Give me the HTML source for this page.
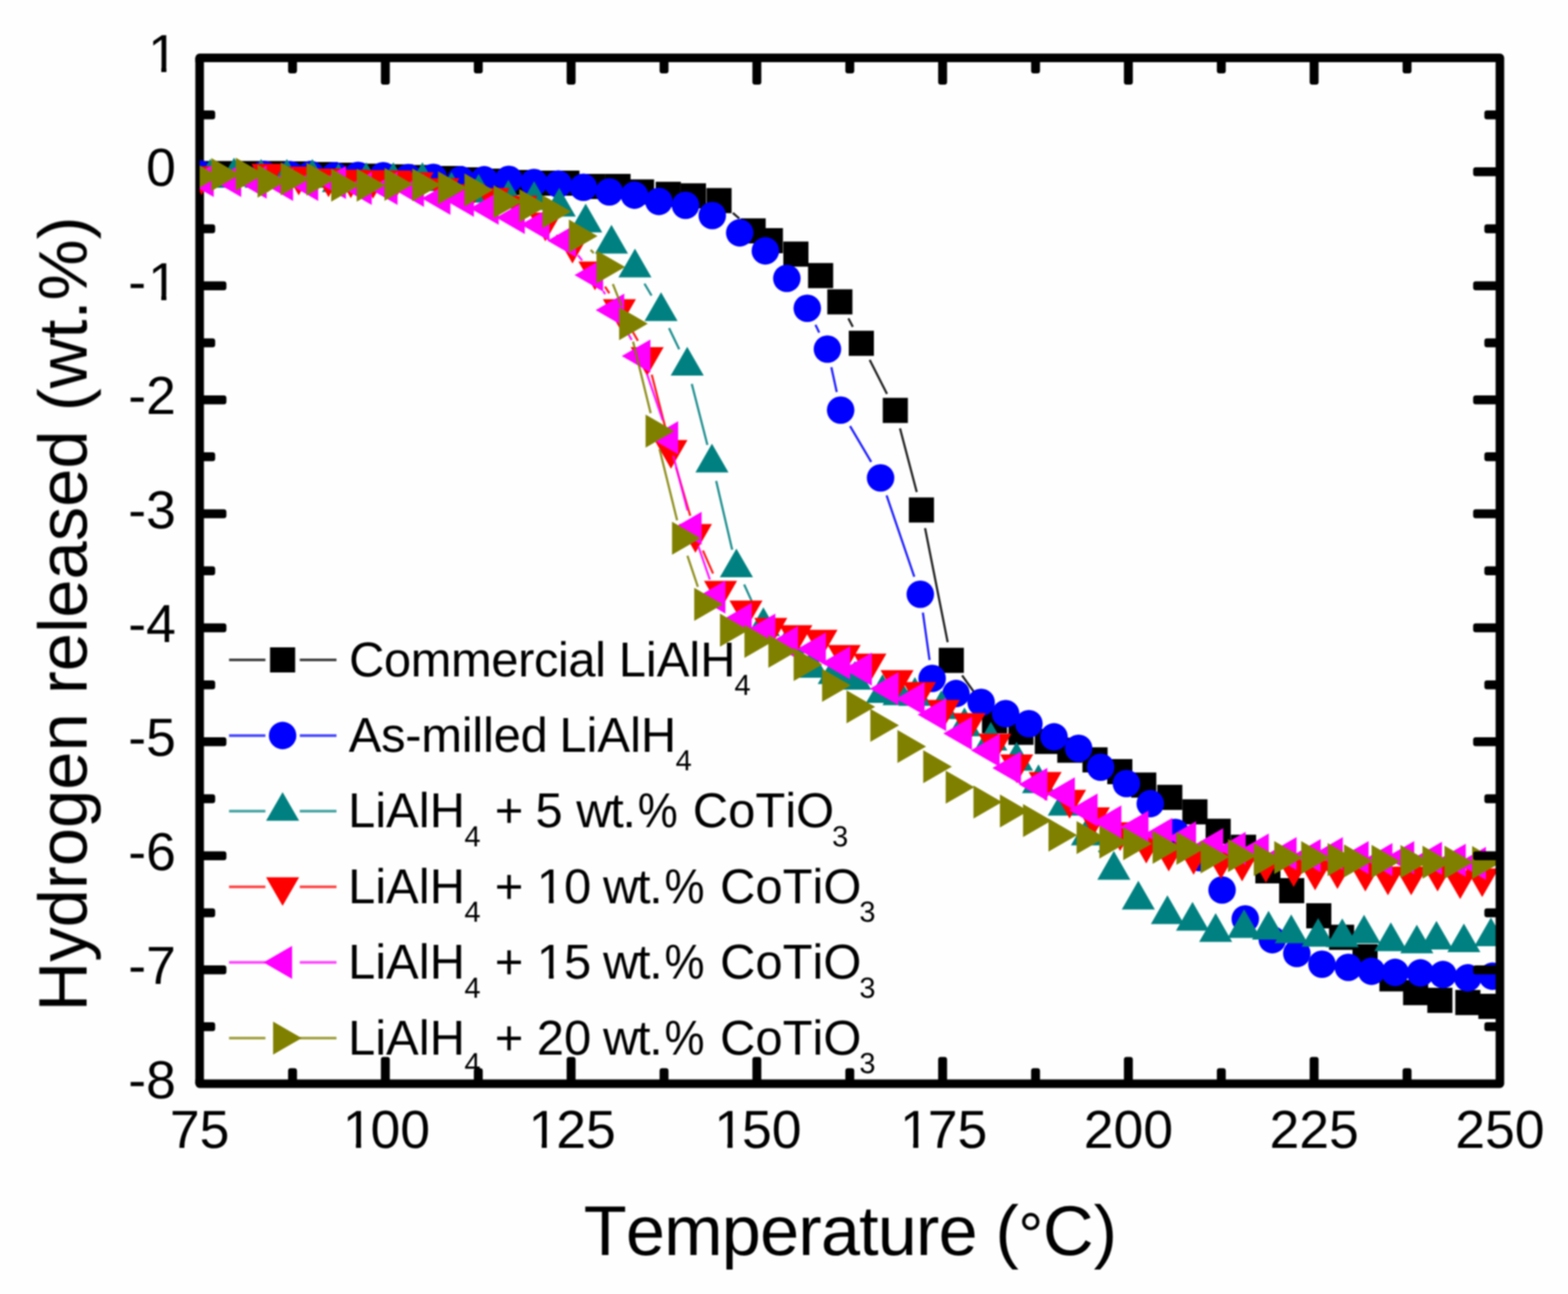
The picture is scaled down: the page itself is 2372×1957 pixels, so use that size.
<!DOCTYPE html>
<html lang="en"><head><meta charset="utf-8"><title>Hydrogen released vs Temperature</title>
<style>html,body{margin:0;padding:0;background:#fefefe;}body{width:2372px;height:1957px;overflow:hidden;}svg{display:block;}text{font-family:"Liberation Sans",Arial,Helvetica,sans-serif;fill:#000;font-kerning:none;text-rendering:geometricPrecision;}</style></head><body>
<svg width="2372" height="1957" viewBox="0 0 2372 1957">
<rect width="2372" height="1957" fill="#fefefe"/>
<defs><clipPath id="pc"><rect x="302.0" y="87.5" width="1967.0" height="1551.5"/></clipPath><filter id="soft" x="0" y="0" width="2372" height="1957" filterUnits="userSpaceOnUse" color-interpolation-filters="sRGB"><feGaussianBlur stdDeviation="0.95"/></filter></defs>
<g id="chart" filter="url(#soft)">
<g id="legend">
<path d="M346.5 998.0H401.5M453.5 998.0H509" stroke="#000000" stroke-width="4.0" stroke-opacity="0.75" fill="none"/>
<rect x="408.5" y="979.0" width="38.0" height="38.0" fill="#000000"/>
<text font-size="74"><tspan x="528.0" y="1022.5" style="letter-spacing:-0.67px">Commercial</tspan> <tspan x="935.9" y="1022.5">LiAlH</tspan><tspan x="1111.1" y="1051.0" font-size="44">4</tspan></text>
<path d="M346.5 1112.4H401.5M453.5 1112.4H509" stroke="#0000ff" stroke-width="4.0" stroke-opacity="0.75" fill="none"/>
<circle cx="427.5" cy="1112.4" r="20.8" fill="#0000ff"/>
<text font-size="74"><tspan x="527.4" y="1136.9" style="letter-spacing:-0.37px">As-milled</tspan> <tspan x="846.2" y="1136.9">LiAlH</tspan><tspan x="1022.1" y="1165.4" font-size="44">4</tspan></text>
<path d="M346.5 1226.8H401.5M453.5 1226.8H509" stroke="#008080" stroke-width="4.0" stroke-opacity="0.75" fill="none"/>
<polygon points="427.5,1197.9 402.5,1241.2 452.5,1241.2" fill="#008080"/>
<text font-size="74"><tspan x="526.5" y="1251.3">LiAlH</tspan><tspan x="702.5" y="1279.8" font-size="44">4</tspan> <tspan x="748.4" y="1251.3">+</tspan> <tspan x="810.1" y="1251.3">5</tspan> <tspan x="871.8" y="1251.3" style="letter-spacing:-2.20px">wt.</tspan></text><text transform="translate(964.8 1251.3) scale(0.92 1)" font-size="74">% </text><text font-size="74"><tspan x="1048.1" y="1251.3">CoTiO</tspan><tspan x="1258.8" y="1279.8" font-size="44">3</tspan></text>
<path d="M346.5 1341.2H401.5M453.5 1341.2H509" stroke="#ff0000" stroke-width="4.0" stroke-opacity="0.75" fill="none"/>
<polygon points="427.5,1370.1 402.5,1326.8 452.5,1326.8" fill="#ff0000"/>
<text font-size="74"><tspan x="526.5" y="1365.7">LiAlH</tspan><tspan x="702.5" y="1394.2" font-size="44">4</tspan> <tspan x="748.4" y="1365.7">+</tspan> <tspan x="812.1" y="1365.7">10</tspan> <tspan x="912.3" y="1365.7" style="letter-spacing:-2.20px">wt.</tspan></text><text transform="translate(1005.3 1365.7) scale(0.92 1)" font-size="74">% </text><text font-size="74"><tspan x="1089.3" y="1365.7">CoTiO</tspan><tspan x="1300.0" y="1394.2" font-size="44">3</tspan></text>
<path d="M814.32 1358.77H830.37v8.73H814.32zM837.49 1358.77H852.80v8.73H837.49z" fill="#fefefe"/>
<path d="M346.5 1455.6H401.5M453.5 1455.6H509" stroke="#ff00ff" stroke-width="4.0" stroke-opacity="0.75" fill="none"/>
<polygon points="398.6,1455.6 441.9,1430.6 441.9,1480.6" fill="#ff00ff"/>
<text font-size="74"><tspan x="526.5" y="1480.1">LiAlH</tspan><tspan x="702.5" y="1508.6" font-size="44">4</tspan> <tspan x="748.4" y="1480.1">+</tspan> <tspan x="812.1" y="1480.1">15</tspan> <tspan x="912.3" y="1480.1" style="letter-spacing:-2.20px">wt.</tspan></text><text transform="translate(1005.3 1480.1) scale(0.92 1)" font-size="74">% </text><text font-size="74"><tspan x="1089.3" y="1480.1">CoTiO</tspan><tspan x="1300.0" y="1508.6" font-size="44">3</tspan></text>
<path d="M814.32 1473.16H830.37v8.73H814.32zM837.49 1473.16H852.80v8.73H837.49z" fill="#fefefe"/>
<path d="M346.5 1570.0H401.5M453.5 1570.0H509" stroke="#808000" stroke-width="4.0" stroke-opacity="0.75" fill="none"/>
<polygon points="456.4,1570.0 413.1,1545.0 413.1,1595.0" fill="#808000"/>
<text font-size="74"><tspan x="526.5" y="1594.5">LiAlH</tspan><tspan x="702.5" y="1623.0" font-size="44">4</tspan> <tspan x="748.4" y="1594.5">+</tspan> <tspan x="812.1" y="1594.5">20</tspan> <tspan x="912.3" y="1594.5" style="letter-spacing:-2.20px">wt.</tspan></text><text transform="translate(1005.3 1594.5) scale(0.92 1)" font-size="74">% </text><text font-size="74"><tspan x="1089.3" y="1594.5">CoTiO</tspan><tspan x="1300.0" y="1623.0" font-size="44">3</tspan></text>
</g>
<g id="axis-left" stroke="#000" fill="none"><path d="M302.0 166.9h19.5a4 4 0 0 1 4 4v5.5a4 4 0 0 1 -4 4h-19.5a4 4 0 0 1 -4 -4v-5.5a4 4 0 0 1 4 -4zM302.0 253.1h36.5a4 4 0 0 1 4 4v5.5a4 4 0 0 1 -4 4h-36.5a4 4 0 0 1 -4 -4v-5.5a4 4 0 0 1 4 -4zM302.0 339.3h19.5a4 4 0 0 1 4 4v5.5a4 4 0 0 1 -4 4h-19.5a4 4 0 0 1 -4 -4v-5.5a4 4 0 0 1 4 -4zM302.0 425.5h36.5a4 4 0 0 1 4 4v5.5a4 4 0 0 1 -4 4h-36.5a4 4 0 0 1 -4 -4v-5.5a4 4 0 0 1 4 -4zM302.0 511.7h19.5a4 4 0 0 1 4 4v5.5a4 4 0 0 1 -4 4h-19.5a4 4 0 0 1 -4 -4v-5.5a4 4 0 0 1 4 -4zM302.0 597.9h36.5a4 4 0 0 1 4 4v5.5a4 4 0 0 1 -4 4h-36.5a4 4 0 0 1 -4 -4v-5.5a4 4 0 0 1 4 -4zM302.0 684.1h19.5a4 4 0 0 1 4 4v5.5a4 4 0 0 1 -4 4h-19.5a4 4 0 0 1 -4 -4v-5.5a4 4 0 0 1 4 -4zM302.0 770.3h36.5a4 4 0 0 1 4 4v5.5a4 4 0 0 1 -4 4h-36.5a4 4 0 0 1 -4 -4v-5.5a4 4 0 0 1 4 -4zM302.0 856.5h19.5a4 4 0 0 1 4 4v5.5a4 4 0 0 1 -4 4h-19.5a4 4 0 0 1 -4 -4v-5.5a4 4 0 0 1 4 -4zM302.0 942.7h36.5a4 4 0 0 1 4 4v5.5a4 4 0 0 1 -4 4h-36.5a4 4 0 0 1 -4 -4v-5.5a4 4 0 0 1 4 -4zM302.0 1028.9h19.5a4 4 0 0 1 4 4v5.5a4 4 0 0 1 -4 4h-19.5a4 4 0 0 1 -4 -4v-5.5a4 4 0 0 1 4 -4zM302.0 1115.1h36.5a4 4 0 0 1 4 4v5.5a4 4 0 0 1 -4 4h-36.5a4 4 0 0 1 -4 -4v-5.5a4 4 0 0 1 4 -4zM302.0 1201.3h19.5a4 4 0 0 1 4 4v5.5a4 4 0 0 1 -4 4h-19.5a4 4 0 0 1 -4 -4v-5.5a4 4 0 0 1 4 -4zM302.0 1287.5h36.5a4 4 0 0 1 4 4v5.5a4 4 0 0 1 -4 4h-36.5a4 4 0 0 1 -4 -4v-5.5a4 4 0 0 1 4 -4zM302.0 1373.7h19.5a4 4 0 0 1 4 4v5.5a4 4 0 0 1 -4 4h-19.5a4 4 0 0 1 -4 -4v-5.5a4 4 0 0 1 4 -4zM302.0 1459.9h36.5a4 4 0 0 1 4 4v5.5a4 4 0 0 1 -4 4h-36.5a4 4 0 0 1 -4 -4v-5.5a4 4 0 0 1 4 -4zM302.0 1546.1h19.5a4 4 0 0 1 4 4v5.5a4 4 0 0 1 -4 4h-19.5a4 4 0 0 1 -4 -4v-5.5a4 4 0 0 1 4 -4z" fill="#000" stroke="none"/><path d="M302.0 87.5V1639.0" stroke-width="13.0"/></g>
<g id="series" clip-path="url(#pc)">
<g>
<path d="M1108.6 322.0L1118.4 330.6M1283.4 481.4L1290.1 494.3M1315.6 544.2L1341.8 595.7M1361.5 647.8L1386.8 744.2M1399.4 798.8L1433.6 971.2M1455.4 1021.5L1488.2 1067.2" stroke="#000000" stroke-width="3.3" stroke-opacity="0.88" fill="none"/>
<rect x="283.0" y="243.5" width="38.0" height="38.0" fill="#000000"/>
<rect x="321.0" y="243.5" width="38.0" height="38.0" fill="#000000"/>
<rect x="359.0" y="243.5" width="38.0" height="38.0" fill="#000000"/>
<rect x="397.0" y="243.5" width="38.0" height="38.0" fill="#000000"/>
<rect x="435.0" y="244.0" width="38.0" height="38.0" fill="#000000"/>
<rect x="473.0" y="245.0" width="38.0" height="38.0" fill="#000000"/>
<rect x="511.0" y="246.0" width="38.0" height="38.0" fill="#000000"/>
<rect x="549.0" y="247.5" width="38.0" height="38.0" fill="#000000"/>
<rect x="587.0" y="248.5" width="38.0" height="38.0" fill="#000000"/>
<rect x="625.0" y="249.5" width="38.0" height="38.0" fill="#000000"/>
<rect x="663.0" y="251.0" width="38.0" height="38.0" fill="#000000"/>
<rect x="701.0" y="253.0" width="38.0" height="38.0" fill="#000000"/>
<rect x="739.0" y="255.0" width="38.0" height="38.0" fill="#000000"/>
<rect x="777.0" y="257.0" width="38.0" height="38.0" fill="#000000"/>
<rect x="815.0" y="258.0" width="38.0" height="38.0" fill="#000000"/>
<rect x="838.6" y="258.0" width="38.0" height="38.0" fill="#000000"/>
<rect x="877.9" y="263.0" width="38.0" height="38.0" fill="#000000"/>
<rect x="915.9" y="263.0" width="38.0" height="38.0" fill="#000000"/>
<rect x="951.5" y="271.3" width="38.0" height="38.0" fill="#000000"/>
<rect x="991.9" y="274.9" width="38.0" height="38.0" fill="#000000"/>
<rect x="1030.0" y="277.2" width="38.0" height="38.0" fill="#000000"/>
<rect x="1068.7" y="284.4" width="38.0" height="38.0" fill="#000000"/>
<rect x="1120.3" y="330.2" width="38.0" height="38.0" fill="#000000"/>
<rect x="1146.4" y="345.0" width="38.0" height="38.0" fill="#000000"/>
<rect x="1185.0" y="365.3" width="38.0" height="38.0" fill="#000000"/>
<rect x="1222.4" y="397.8" width="38.0" height="38.0" fill="#000000"/>
<rect x="1251.5" y="437.5" width="38.0" height="38.0" fill="#000000"/>
<rect x="1284.0" y="500.2" width="38.0" height="38.0" fill="#000000"/>
<rect x="1335.4" y="601.7" width="38.0" height="38.0" fill="#000000"/>
<rect x="1374.9" y="752.3" width="38.0" height="38.0" fill="#000000"/>
<rect x="1420.1" y="979.7" width="38.0" height="38.0" fill="#000000"/>
<rect x="1485.5" y="1071.0" width="38.0" height="38.0" fill="#000000"/>
<rect x="1525.5" y="1088.5" width="38.0" height="38.0" fill="#000000"/>
<rect x="1565.4" y="1102.3" width="38.0" height="38.0" fill="#000000"/>
<rect x="1599.4" y="1115.6" width="38.0" height="38.0" fill="#000000"/>
<rect x="1637.5" y="1130.2" width="38.0" height="38.0" fill="#000000"/>
<rect x="1675.0" y="1148.0" width="38.0" height="38.0" fill="#000000"/>
<rect x="1711.2" y="1168.3" width="38.0" height="38.0" fill="#000000"/>
<rect x="1750.6" y="1186.9" width="38.0" height="38.0" fill="#000000"/>
<rect x="1788.6" y="1208.8" width="38.0" height="38.0" fill="#000000"/>
<rect x="1823.8" y="1238.2" width="38.0" height="38.0" fill="#000000"/>
<rect x="1862.2" y="1262.4" width="38.0" height="38.0" fill="#000000"/>
<rect x="1899.0" y="1298.0" width="38.0" height="38.0" fill="#000000"/>
<rect x="1935.0" y="1328.0" width="38.0" height="38.0" fill="#000000"/>
<rect x="1976.0" y="1366.0" width="38.0" height="38.0" fill="#000000"/>
<rect x="2010.5" y="1398.5" width="38.0" height="38.0" fill="#000000"/>
<rect x="2046.0" y="1428.0" width="38.0" height="38.0" fill="#000000"/>
<rect x="2086.7" y="1461.4" width="38.0" height="38.0" fill="#000000"/>
<rect x="2122.5" y="1482.2" width="38.0" height="38.0" fill="#000000"/>
<rect x="2159.2" y="1493.9" width="38.0" height="38.0" fill="#000000"/>
<rect x="2201.5" y="1497.2" width="38.0" height="38.0" fill="#000000"/>
<rect x="2236.4" y="1503.0" width="38.0" height="38.0" fill="#000000"/>
</g>
<g>
<path d="M330.0 263.2L371.3 263.6M1233.6 491.3L1239.3 502.9M1257.6 555.4L1265.8 592.8M1285.9 644.3L1317.9 698.7M1341.2 749.3L1383.1 872.2M1396.1 926.4L1406.2 998.3" stroke="#0000ff" stroke-width="3.3" stroke-opacity="0.88" fill="none"/>
<circle cx="302.0" cy="263.0" r="20.8" fill="#0000ff"/>
<circle cx="399.3" cy="263.8" r="20.8" fill="#0000ff"/>
<circle cx="438.3" cy="264.0" r="20.8" fill="#0000ff"/>
<circle cx="470.0" cy="263.9" r="20.8" fill="#0000ff"/>
<circle cx="506.5" cy="265.8" r="20.8" fill="#0000ff"/>
<circle cx="541.7" cy="265.3" r="20.8" fill="#0000ff"/>
<circle cx="579.7" cy="265.8" r="20.8" fill="#0000ff"/>
<circle cx="617.8" cy="268.6" r="20.8" fill="#0000ff"/>
<circle cx="655.5" cy="268.3" r="20.8" fill="#0000ff"/>
<circle cx="697.0" cy="271.9" r="20.8" fill="#0000ff"/>
<circle cx="732.5" cy="271.9" r="20.8" fill="#0000ff"/>
<circle cx="769.7" cy="271.3" r="20.8" fill="#0000ff"/>
<circle cx="807.7" cy="276.0" r="20.8" fill="#0000ff"/>
<circle cx="844.6" cy="278.4" r="20.8" fill="#0000ff"/>
<circle cx="882.6" cy="283.2" r="20.8" fill="#0000ff"/>
<circle cx="921.8" cy="290.3" r="20.8" fill="#0000ff"/>
<circle cx="959.8" cy="295.1" r="20.8" fill="#0000ff"/>
<circle cx="996.7" cy="304.6" r="20.8" fill="#0000ff"/>
<circle cx="1037.1" cy="310.5" r="20.8" fill="#0000ff"/>
<circle cx="1077.5" cy="326.0" r="20.8" fill="#0000ff"/>
<circle cx="1119.0" cy="352.1" r="20.8" fill="#0000ff"/>
<circle cx="1157.8" cy="379.4" r="20.8" fill="#0000ff"/>
<circle cx="1190.3" cy="421.0" r="20.8" fill="#0000ff"/>
<circle cx="1221.2" cy="466.2" r="20.8" fill="#0000ff"/>
<circle cx="1251.7" cy="528.0" r="20.8" fill="#0000ff"/>
<circle cx="1271.7" cy="620.2" r="20.8" fill="#0000ff"/>
<circle cx="1332.1" cy="722.8" r="20.8" fill="#0000ff"/>
<circle cx="1392.2" cy="898.7" r="20.8" fill="#0000ff"/>
<circle cx="1410.1" cy="1026.0" r="20.8" fill="#0000ff"/>
<circle cx="1446.2" cy="1048.9" r="20.8" fill="#0000ff"/>
<circle cx="1484.2" cy="1062.2" r="20.8" fill="#0000ff"/>
<circle cx="1521.3" cy="1079.3" r="20.8" fill="#0000ff"/>
<circle cx="1556.5" cy="1094.5" r="20.8" fill="#0000ff"/>
<circle cx="1594.5" cy="1114.4" r="20.8" fill="#0000ff"/>
<circle cx="1631.7" cy="1131.7" r="20.8" fill="#0000ff"/>
<circle cx="1665.0" cy="1160.3" r="20.8" fill="#0000ff"/>
<circle cx="1704.0" cy="1185.0" r="20.8" fill="#0000ff"/>
<circle cx="1740.1" cy="1215.4" r="20.8" fill="#0000ff"/>
<circle cx="1778.0" cy="1259.0" r="20.8" fill="#0000ff"/>
<circle cx="1815.0" cy="1297.0" r="20.8" fill="#0000ff"/>
<circle cx="1848.7" cy="1346.0" r="20.8" fill="#0000ff"/>
<circle cx="1883.8" cy="1389.7" r="20.8" fill="#0000ff"/>
<circle cx="1924.7" cy="1421.1" r="20.8" fill="#0000ff"/>
<circle cx="1961.8" cy="1442.0" r="20.8" fill="#0000ff"/>
<circle cx="1999.8" cy="1458.2" r="20.8" fill="#0000ff"/>
<circle cx="2039.7" cy="1463.0" r="20.8" fill="#0000ff"/>
<circle cx="2074.8" cy="1468.9" r="20.8" fill="#0000ff"/>
<circle cx="2110.5" cy="1470.6" r="20.8" fill="#0000ff"/>
<circle cx="2148.8" cy="1471.4" r="20.8" fill="#0000ff"/>
<circle cx="2182.9" cy="1473.9" r="20.8" fill="#0000ff"/>
<circle cx="2220.3" cy="1478.9" r="20.8" fill="#0000ff"/>
<circle cx="2257.8" cy="1476.4" r="20.8" fill="#0000ff"/>
</g>
<g>
<path d="M974.9 429.0L985.6 447.0M1012.1 496.2L1027.5 528.3M1046.5 580.6L1070.1 672.9M1083.4 727.3L1107.6 831.3M1125.7 884.0L1143.1 922.1M1662.1 1286.2L1667.9 1293.8" stroke="#008080" stroke-width="3.3" stroke-opacity="0.88" fill="none"/>
<polygon points="318.0,240.6 293.0,283.9 343.0,283.9" fill="#008080"/>
<polygon points="354.0,238.6 329.0,281.9 379.0,281.9" fill="#008080"/>
<polygon points="395.0,240.6 370.0,283.9 420.0,283.9" fill="#008080"/>
<polygon points="434.0,240.6 409.0,283.9 459.0,283.9" fill="#008080"/>
<polygon points="472.5,240.6 447.5,283.9 497.5,283.9" fill="#008080"/>
<polygon points="512.0,247.1 487.0,290.4 537.0,290.4" fill="#008080"/>
<polygon points="554.0,245.6 529.0,288.9 579.0,288.9" fill="#008080"/>
<polygon points="595.0,245.6 570.0,288.9 620.0,288.9" fill="#008080"/>
<polygon points="639.0,245.6 614.0,288.9 664.0,288.9" fill="#008080"/>
<polygon points="683.0,260.1 658.0,303.4 708.0,303.4" fill="#008080"/>
<polygon points="724.0,263.1 699.0,306.4 749.0,306.4" fill="#008080"/>
<polygon points="769.0,272.1 744.0,315.4 794.0,315.4" fill="#008080"/>
<polygon points="808.0,274.1 783.0,317.4 833.0,317.4" fill="#008080"/>
<polygon points="846.0,284.1 821.0,327.4 871.0,327.4" fill="#008080"/>
<polygon points="886.0,308.1 861.0,351.4 911.0,351.4" fill="#008080"/>
<polygon points="925.0,340.1 900.0,383.4 950.0,383.4" fill="#008080"/>
<polygon points="960.5,376.1 935.5,419.4 985.5,419.4" fill="#008080"/>
<polygon points="1000.0,442.1 975.0,485.4 1025.0,485.4" fill="#008080"/>
<polygon points="1039.6,524.6 1014.6,567.9 1064.6,567.9" fill="#008080"/>
<polygon points="1077.0,671.1 1052.0,714.4 1102.0,714.4" fill="#008080"/>
<polygon points="1114.0,829.7 1089.0,873.0 1139.0,873.0" fill="#008080"/>
<polygon points="1154.8,918.6 1129.8,961.9 1179.8,961.9" fill="#008080"/>
<polygon points="1192.0,946.1 1167.0,989.4 1217.0,989.4" fill="#008080"/>
<polygon points="1228.0,981.7 1203.0,1025.0 1253.0,1025.0" fill="#008080"/>
<polygon points="1262.0,991.1 1237.0,1034.4 1287.0,1034.4" fill="#008080"/>
<polygon points="1293.0,999.7 1268.0,1043.0 1318.0,1043.0" fill="#008080"/>
<polygon points="1335.0,1019.8 1310.0,1063.1 1360.0,1063.1" fill="#008080"/>
<polygon points="1360.0,1023.1 1335.0,1066.4 1385.0,1066.4" fill="#008080"/>
<polygon points="1384.0,1024.1 1359.0,1067.4 1409.0,1067.4" fill="#008080"/>
<polygon points="1424.0,1044.1 1399.0,1087.4 1449.0,1087.4" fill="#008080"/>
<polygon points="1459.0,1070.1 1434.0,1113.4 1484.0,1113.4" fill="#008080"/>
<polygon points="1498.9,1091.8 1473.9,1135.1 1523.9,1135.1" fill="#008080"/>
<polygon points="1537.8,1122.1 1512.8,1165.4 1562.8,1165.4" fill="#008080"/>
<polygon points="1571.0,1156.1 1546.0,1199.4 1596.0,1199.4" fill="#008080"/>
<polygon points="1610.0,1190.1 1585.0,1233.4 1635.0,1233.4" fill="#008080"/>
<polygon points="1645.0,1235.1 1620.0,1278.4 1670.0,1278.4" fill="#008080"/>
<polygon points="1685.0,1287.1 1660.0,1330.4 1710.0,1330.4" fill="#008080"/>
<polygon points="1722.0,1332.1 1697.0,1375.4 1747.0,1375.4" fill="#008080"/>
<polygon points="1766.0,1354.1 1741.0,1397.4 1791.0,1397.4" fill="#008080"/>
<polygon points="1804.0,1364.1 1779.0,1407.4 1829.0,1407.4" fill="#008080"/>
<polygon points="1839.0,1381.1 1814.0,1424.4 1864.0,1424.4" fill="#008080"/>
<polygon points="1882.0,1375.1 1857.0,1418.4 1907.0,1418.4" fill="#008080"/>
<polygon points="1919.0,1377.6 1894.0,1420.9 1944.0,1420.9" fill="#008080"/>
<polygon points="1953.3,1383.1 1928.3,1426.4 1978.3,1426.4" fill="#008080"/>
<polygon points="1994.0,1388.5 1969.0,1431.8 2019.0,1431.8" fill="#008080"/>
<polygon points="2030.5,1389.1 2005.5,1432.4 2055.5,1432.4" fill="#008080"/>
<polygon points="2063.5,1383.4 2038.5,1426.7 2088.5,1426.7" fill="#008080"/>
<polygon points="2104.0,1395.1 2079.0,1438.4 2129.0,1438.4" fill="#008080"/>
<polygon points="2143.3,1398.4 2118.3,1441.7 2168.3,1441.7" fill="#008080"/>
<polygon points="2173.0,1392.7 2148.0,1436.0 2198.0,1436.0" fill="#008080"/>
<polygon points="2214.5,1396.7 2189.5,1440.0 2239.5,1440.0" fill="#008080"/>
<polygon points="2255.4,1387.8 2230.4,1431.1 2280.4,1431.1" fill="#008080"/>
</g>
<g>
<path d="M333.0 264.9L377.3 263.3M915.2 433.5L921.8 443.5M951.0 491.2L965.0 515.3M985.9 566.6L1008.1 652.9M1022.8 706.9L1044.2 780.1M1063.3 832.6L1078.7 867.4" stroke="#ff0000" stroke-width="3.3" stroke-opacity="0.88" fill="none"/>
<polygon points="305.0,294.9 280.0,251.6 330.0,251.6" fill="#ff0000"/>
<polygon points="405.3,291.1 380.3,247.8 430.3,247.8" fill="#ff0000"/>
<polygon points="451.9,295.4 426.9,252.1 476.9,252.1" fill="#ff0000"/>
<polygon points="497.0,298.2 472.0,254.9 522.0,254.9" fill="#ff0000"/>
<polygon points="530.7,299.7 505.7,256.4 555.7,256.4" fill="#ff0000"/>
<polygon points="564.3,300.6 539.3,257.3 589.3,257.3" fill="#ff0000"/>
<polygon points="598.0,301.1 573.0,257.8 623.0,257.8" fill="#ff0000"/>
<polygon points="631.0,303.7 606.0,260.4 656.0,260.4" fill="#ff0000"/>
<polygon points="670.0,312.9 645.0,269.6 695.0,269.6" fill="#ff0000"/>
<polygon points="709.0,321.9 684.0,278.6 734.0,278.6" fill="#ff0000"/>
<polygon points="746.0,327.5 721.0,284.2 771.0,284.2" fill="#ff0000"/>
<polygon points="788.0,339.4 763.0,296.1 813.0,296.1" fill="#ff0000"/>
<polygon points="825.0,364.9 800.0,321.6 850.0,321.6" fill="#ff0000"/>
<polygon points="866.0,398.4 841.0,355.1 891.0,355.1" fill="#ff0000"/>
<polygon points="900.0,438.9 875.0,395.6 925.0,395.6" fill="#ff0000"/>
<polygon points="937.0,495.9 912.0,452.6 962.0,452.6" fill="#ff0000"/>
<polygon points="979.0,568.4 954.0,525.1 1004.0,525.1" fill="#ff0000"/>
<polygon points="1015.0,708.9 990.0,665.6 1040.0,665.6" fill="#ff0000"/>
<polygon points="1052.0,835.9 1027.0,792.6 1077.0,792.6" fill="#ff0000"/>
<polygon points="1090.0,921.9 1065.0,878.6 1115.0,878.6" fill="#ff0000"/>
<polygon points="1128.5,951.5 1103.5,908.2 1153.5,908.2" fill="#ff0000"/>
<polygon points="1166.0,977.9 1141.0,934.6 1191.0,934.6" fill="#ff0000"/>
<polygon points="1204.0,988.9 1179.0,945.6 1229.0,945.6" fill="#ff0000"/>
<polygon points="1242.0,995.9 1217.0,952.6 1267.0,952.6" fill="#ff0000"/>
<polygon points="1277.0,1018.9 1252.0,975.6 1302.0,975.6" fill="#ff0000"/>
<polygon points="1316.0,1031.9 1291.0,988.6 1341.0,988.6" fill="#ff0000"/>
<polygon points="1357.0,1056.9 1332.0,1013.6 1382.0,1013.6" fill="#ff0000"/>
<polygon points="1391.0,1074.9 1366.0,1031.6 1416.0,1031.6" fill="#ff0000"/>
<polygon points="1427.0,1101.9 1402.0,1058.6 1452.0,1058.6" fill="#ff0000"/>
<polygon points="1466.0,1121.9 1441.0,1078.6 1491.0,1078.6" fill="#ff0000"/>
<polygon points="1505.0,1152.9 1480.0,1109.6 1530.0,1109.6" fill="#ff0000"/>
<polygon points="1538.0,1184.4 1513.0,1141.1 1563.0,1141.1" fill="#ff0000"/>
<polygon points="1581.0,1210.9 1556.0,1167.6 1606.0,1167.6" fill="#ff0000"/>
<polygon points="1618.0,1237.9 1593.0,1194.6 1643.0,1194.6" fill="#ff0000"/>
<polygon points="1654.0,1264.4 1629.0,1221.1 1679.0,1221.1" fill="#ff0000"/>
<polygon points="1694.5,1286.9 1669.5,1243.6 1719.5,1243.6" fill="#ff0000"/>
<polygon points="1734.0,1305.9 1709.0,1262.6 1759.0,1262.6" fill="#ff0000"/>
<polygon points="1768.0,1317.9 1743.0,1274.6 1793.0,1274.6" fill="#ff0000"/>
<polygon points="1805.6,1322.9 1780.6,1279.6 1830.6,1279.6" fill="#ff0000"/>
<polygon points="1847.0,1329.5 1822.0,1286.2 1872.0,1286.2" fill="#ff0000"/>
<polygon points="1879.0,1332.9 1854.0,1289.6 1904.0,1289.6" fill="#ff0000"/>
<polygon points="1915.0,1334.9 1890.0,1291.6 1940.0,1291.6" fill="#ff0000"/>
<polygon points="1957.0,1341.6 1932.0,1298.3 1982.0,1298.3" fill="#ff0000"/>
<polygon points="1989.4,1346.4 1964.4,1303.1 2014.4,1303.1" fill="#ff0000"/>
<polygon points="2023.2,1344.5 1998.2,1301.2 2048.2,1301.2" fill="#ff0000"/>
<polygon points="2065.4,1348.3 2040.4,1305.0 2090.4,1305.0" fill="#ff0000"/>
<polygon points="2099.6,1354.0 2074.6,1310.7 2124.6,1310.7" fill="#ff0000"/>
<polygon points="2134.8,1354.0 2109.8,1310.7 2159.8,1310.7" fill="#ff0000"/>
<polygon points="2174.7,1348.3 2149.7,1305.0 2199.7,1305.0" fill="#ff0000"/>
<polygon points="2208.9,1359.7 2183.9,1316.4 2233.9,1316.4" fill="#ff0000"/>
<polygon points="2242.2,1356.8 2217.2,1313.5 2267.2,1313.5" fill="#ff0000"/>
</g>
<g>
<path d="M874.3 386.0L880.7 394.0M912.5 440.0L915.5 445.0M943.9 493.3L955.6 514.1M978.5 564.9L1002.5 635.5M1018.5 689.1L1040.0 771.9M1056.2 825.5L1073.8 876.5" stroke="#ff00ff" stroke-width="3.3" stroke-opacity="0.88" fill="none"/>
<polygon points="280.1,273.0 323.4,248.0 323.4,298.0" fill="#ff00ff"/>
<polygon points="321.6,273.0 364.9,248.0 364.9,298.0" fill="#ff00ff"/>
<polygon points="360.1,275.5 403.4,250.5 403.4,300.5" fill="#ff00ff"/>
<polygon points="400.1,279.0 443.4,254.0 443.4,304.0" fill="#ff00ff"/>
<polygon points="438.1,279.0 481.4,254.0 481.4,304.0" fill="#ff00ff"/>
<polygon points="480.1,276.0 523.4,251.0 523.4,301.0" fill="#ff00ff"/>
<polygon points="519.1,285.0 562.4,260.0 562.4,310.0" fill="#ff00ff"/>
<polygon points="558.1,285.0 601.4,260.0 601.4,310.0" fill="#ff00ff"/>
<polygon points="598.1,288.0 641.4,263.0 641.4,313.0" fill="#ff00ff"/>
<polygon points="638.1,300.0 681.4,275.0 681.4,325.0" fill="#ff00ff"/>
<polygon points="673.6,303.0 716.9,278.0 716.9,328.0" fill="#ff00ff"/>
<polygon points="711.1,315.0 754.4,290.0 754.4,340.0" fill="#ff00ff"/>
<polygon points="750.6,329.0 793.9,304.0 793.9,354.0" fill="#ff00ff"/>
<polygon points="788.0,339.5 831.3,314.5 831.3,364.5" fill="#ff00ff"/>
<polygon points="828.1,364.0 871.4,339.0 871.4,389.0" fill="#ff00ff"/>
<polygon points="869.1,416.0 912.4,391.0 912.4,441.0" fill="#ff00ff"/>
<polygon points="901.1,469.0 944.4,444.0 944.4,494.0" fill="#ff00ff"/>
<polygon points="940.6,538.4 983.9,513.4 983.9,563.4" fill="#ff00ff"/>
<polygon points="982.6,662.0 1025.9,637.0 1025.9,687.0" fill="#ff00ff"/>
<polygon points="1018.1,799.0 1061.4,774.0 1061.4,824.0" fill="#ff00ff"/>
<polygon points="1054.1,903.0 1097.4,878.0 1097.4,928.0" fill="#ff00ff"/>
<polygon points="1093.8,936.7 1137.1,911.7 1137.1,961.7" fill="#ff00ff"/>
<polygon points="1129.6,953.0 1172.9,928.0 1172.9,978.0" fill="#ff00ff"/>
<polygon points="1163.8,972.0 1207.1,947.0 1207.1,997.0" fill="#ff00ff"/>
<polygon points="1206.1,981.5 1249.4,956.5 1249.4,1006.5" fill="#ff00ff"/>
<polygon points="1242.8,1002.6 1286.1,977.6 1286.1,1027.6" fill="#ff00ff"/>
<polygon points="1275.6,1012.1 1318.9,987.1 1318.9,1037.1" fill="#ff00ff"/>
<polygon points="1316.0,1041.5 1359.3,1016.5 1359.3,1066.5" fill="#ff00ff"/>
<polygon points="1355.4,1056.7 1398.7,1031.7 1398.7,1081.7" fill="#ff00ff"/>
<polygon points="1388.1,1080.7 1431.4,1055.7 1431.4,1105.7" fill="#ff00ff"/>
<polygon points="1427.0,1109.2 1470.3,1084.2 1470.3,1134.2" fill="#ff00ff"/>
<polygon points="1468.9,1134.8 1512.2,1109.8 1512.2,1159.8" fill="#ff00ff"/>
<polygon points="1501.2,1161.5 1544.5,1136.5 1544.5,1186.5" fill="#ff00ff"/>
<polygon points="1541.1,1186.2 1584.4,1161.2 1584.4,1211.2" fill="#ff00ff"/>
<polygon points="1582.7,1200.5 1626.0,1175.5 1626.0,1225.5" fill="#ff00ff"/>
<polygon points="1617.1,1225.0 1660.4,1200.0 1660.4,1250.0" fill="#ff00ff"/>
<polygon points="1653.1,1243.0 1696.4,1218.0 1696.4,1268.0" fill="#ff00ff"/>
<polygon points="1694.1,1251.0 1737.4,1226.0 1737.4,1276.0" fill="#ff00ff"/>
<polygon points="1730.1,1262.0 1773.4,1237.0 1773.4,1287.0" fill="#ff00ff"/>
<polygon points="1766.1,1267.0 1809.4,1242.0 1809.4,1292.0" fill="#ff00ff"/>
<polygon points="1807.1,1277.5 1850.4,1252.5 1850.4,1302.5" fill="#ff00ff"/>
<polygon points="1841.1,1283.0 1884.4,1258.0 1884.4,1308.0" fill="#ff00ff"/>
<polygon points="1876.1,1285.5 1919.4,1260.5 1919.4,1310.5" fill="#ff00ff"/>
<polygon points="1918.1,1291.0 1961.4,1266.0 1961.4,1316.0" fill="#ff00ff"/>
<polygon points="1954.6,1294.0 1997.9,1269.0 1997.9,1319.0" fill="#ff00ff"/>
<polygon points="1988.1,1291.0 2031.4,1266.0 2031.4,1316.0" fill="#ff00ff"/>
<polygon points="2027.1,1297.0 2070.4,1272.0 2070.4,1322.0" fill="#ff00ff"/>
<polygon points="2063.1,1300.0 2106.4,1275.0 2106.4,1325.0" fill="#ff00ff"/>
<polygon points="2096.1,1297.0 2139.4,1272.0 2139.4,1322.0" fill="#ff00ff"/>
<polygon points="2138.1,1298.0 2181.4,1273.0 2181.4,1323.0" fill="#ff00ff"/>
<polygon points="2174.1,1301.0 2217.4,1276.0 2217.4,1326.0" fill="#ff00ff"/>
<polygon points="2204.6,1305.7 2247.9,1280.7 2247.9,1330.7" fill="#ff00ff"/>
</g>
<g>
<path d="M893.6 377.9L898.1 382.8M927.1 429.7L940.6 463.5M957.7 516.7L984.3 624.8M997.7 679.2L1024.3 786.8M1039.9 840.5L1055.7 887.5" stroke="#808000" stroke-width="3.3" stroke-opacity="0.88" fill="none"/>
<polygon points="330.9,267.0 287.6,242.0 287.6,292.0" fill="#808000"/>
<polygon points="362.9,264.0 319.6,239.0 319.6,289.0" fill="#808000"/>
<polygon points="399.9,263.5 356.6,238.5 356.6,288.5" fill="#808000"/>
<polygon points="432.9,274.0 389.6,249.0 389.6,299.0" fill="#808000"/>
<polygon points="467.9,270.6 424.6,245.6 424.6,295.6" fill="#808000"/>
<polygon points="506.9,271.0 463.6,246.0 463.6,296.0" fill="#808000"/>
<polygon points="544.3,280.0 501.0,255.0 501.0,305.0" fill="#808000"/>
<polygon points="582.9,280.0 539.6,255.0 539.6,305.0" fill="#808000"/>
<polygon points="624.9,278.7 581.6,253.7 581.6,303.7" fill="#808000"/>
<polygon points="666.9,279.4 623.6,254.4 623.6,304.4" fill="#808000"/>
<polygon points="705.9,284.0 662.6,259.0 662.6,309.0" fill="#808000"/>
<polygon points="745.9,287.3 702.6,262.3 702.6,312.3" fill="#808000"/>
<polygon points="789.9,305.0 746.6,280.0 746.6,330.0" fill="#808000"/>
<polygon points="828.9,311.0 785.6,286.0 785.6,336.0" fill="#808000"/>
<polygon points="863.9,320.0 820.6,295.0 820.6,345.0" fill="#808000"/>
<polygon points="903.9,357.0 860.6,332.0 860.6,382.0" fill="#808000"/>
<polygon points="945.6,403.7 902.3,378.7 902.3,428.7" fill="#808000"/>
<polygon points="979.9,489.5 936.6,464.5 936.6,514.5" fill="#808000"/>
<polygon points="1019.9,652.0 976.6,627.0 976.6,677.0" fill="#808000"/>
<polygon points="1059.9,814.0 1016.6,789.0 1016.6,839.0" fill="#808000"/>
<polygon points="1093.5,914.0 1050.2,889.0 1050.2,939.0" fill="#808000"/>
<polygon points="1132.5,953.0 1089.2,928.0 1089.2,978.0" fill="#808000"/>
<polygon points="1169.5,970.0 1126.2,945.0 1126.2,995.0" fill="#808000"/>
<polygon points="1205.7,985.0 1162.4,960.0 1162.4,1010.0" fill="#808000"/>
<polygon points="1243.9,1005.0 1200.6,980.0 1200.6,1030.0" fill="#808000"/>
<polygon points="1286.9,1036.5 1243.6,1011.5 1243.6,1061.5" fill="#808000"/>
<polygon points="1323.9,1069.0 1280.6,1044.0 1280.6,1094.0" fill="#808000"/>
<polygon points="1359.9,1097.0 1316.6,1072.0 1316.6,1122.0" fill="#808000"/>
<polygon points="1400.9,1129.0 1357.6,1104.0 1357.6,1154.0" fill="#808000"/>
<polygon points="1439.9,1159.5 1396.6,1134.5 1396.6,1184.5" fill="#808000"/>
<polygon points="1473.9,1190.5 1430.6,1165.5 1430.6,1215.5" fill="#808000"/>
<polygon points="1515.9,1213.0 1472.6,1188.0 1472.6,1238.0" fill="#808000"/>
<polygon points="1555.9,1226.6 1512.6,1201.6 1512.6,1251.6" fill="#808000"/>
<polygon points="1590.9,1241.0 1547.6,1216.0 1547.6,1266.0" fill="#808000"/>
<polygon points="1629.4,1263.0 1586.1,1238.0 1586.1,1288.0" fill="#808000"/>
<polygon points="1671.9,1266.7 1628.6,1241.7 1628.6,1291.7" fill="#808000"/>
<polygon points="1706.4,1273.4 1663.1,1248.4 1663.1,1298.4" fill="#808000"/>
<polygon points="1742.5,1276.0 1699.2,1251.0 1699.2,1301.0" fill="#808000"/>
<polygon points="1786.9,1281.4 1743.6,1256.4 1743.6,1306.4" fill="#808000"/>
<polygon points="1822.9,1283.0 1779.6,1258.0 1779.6,1308.0" fill="#808000"/>
<polygon points="1859.5,1296.0 1816.2,1271.0 1816.2,1321.0" fill="#808000"/>
<polygon points="1900.9,1294.0 1857.6,1269.0 1857.6,1319.0" fill="#808000"/>
<polygon points="1939.9,1300.0 1896.6,1275.0 1896.6,1325.0" fill="#808000"/>
<polygon points="1970.9,1297.0 1927.6,1272.0 1927.6,1322.0" fill="#808000"/>
<polygon points="2011.7,1297.0 1968.4,1272.0 1968.4,1322.0" fill="#808000"/>
<polygon points="2051.7,1300.0 2008.4,1275.0 2008.4,1325.0" fill="#808000"/>
<polygon points="2076.4,1302.0 2033.1,1277.0 2033.1,1327.0" fill="#808000"/>
<polygon points="2118.2,1302.7 2074.9,1277.7 2074.9,1327.7" fill="#808000"/>
<polygon points="2161.9,1303.0 2118.6,1278.0 2118.6,1328.0" fill="#808000"/>
<polygon points="2195.2,1304.0 2151.9,1279.0 2151.9,1329.0" fill="#808000"/>
<polygon points="2228.5,1304.0 2185.2,1279.0 2185.2,1329.0" fill="#808000"/>
<polygon points="2270.3,1304.6 2227.0,1279.6 2227.0,1329.6" fill="#808000"/>
</g>
</g>
<g id="axes" stroke="#000" fill="none"><path d="M439.8 83.5h5.5a4 4 0 0 1 4 4v19.5a4 4 0 0 1 -4 4h-5.5a4 4 0 0 1 -4 -4v-19.5a4 4 0 0 1 4 -4zM580.2 83.5h5.5a4 4 0 0 1 4 4v36.5a4 4 0 0 1 -4 4h-5.5a4 4 0 0 1 -4 -4v-36.5a4 4 0 0 1 4 -4zM720.8 83.5h5.5a4 4 0 0 1 4 4v19.5a4 4 0 0 1 -4 4h-5.5a4 4 0 0 1 -4 -4v-19.5a4 4 0 0 1 4 -4zM861.2 83.5h5.5a4 4 0 0 1 4 4v36.5a4 4 0 0 1 -4 4h-5.5a4 4 0 0 1 -4 -4v-36.5a4 4 0 0 1 4 -4zM1001.8 83.5h5.5a4 4 0 0 1 4 4v19.5a4 4 0 0 1 -4 4h-5.5a4 4 0 0 1 -4 -4v-19.5a4 4 0 0 1 4 -4zM1142.2 83.5h5.5a4 4 0 0 1 4 4v36.5a4 4 0 0 1 -4 4h-5.5a4 4 0 0 1 -4 -4v-36.5a4 4 0 0 1 4 -4zM1282.8 83.5h5.5a4 4 0 0 1 4 4v19.5a4 4 0 0 1 -4 4h-5.5a4 4 0 0 1 -4 -4v-19.5a4 4 0 0 1 4 -4zM1423.2 83.5h5.5a4 4 0 0 1 4 4v36.5a4 4 0 0 1 -4 4h-5.5a4 4 0 0 1 -4 -4v-36.5a4 4 0 0 1 4 -4zM1563.8 83.5h5.5a4 4 0 0 1 4 4v19.5a4 4 0 0 1 -4 4h-5.5a4 4 0 0 1 -4 -4v-19.5a4 4 0 0 1 4 -4zM1704.2 83.5h5.5a4 4 0 0 1 4 4v36.5a4 4 0 0 1 -4 4h-5.5a4 4 0 0 1 -4 -4v-36.5a4 4 0 0 1 4 -4zM1844.8 83.5h5.5a4 4 0 0 1 4 4v19.5a4 4 0 0 1 -4 4h-5.5a4 4 0 0 1 -4 -4v-19.5a4 4 0 0 1 4 -4zM1985.2 83.5h5.5a4 4 0 0 1 4 4v36.5a4 4 0 0 1 -4 4h-5.5a4 4 0 0 1 -4 -4v-36.5a4 4 0 0 1 4 -4zM2125.8 83.5h5.5a4 4 0 0 1 4 4v19.5a4 4 0 0 1 -4 4h-5.5a4 4 0 0 1 -4 -4v-19.5a4 4 0 0 1 4 -4zM439.8 1615.5h5.5a4 4 0 0 1 4 4v19.5a4 4 0 0 1 -4 4h-5.5a4 4 0 0 1 -4 -4v-19.5a4 4 0 0 1 4 -4zM580.2 1598.5h5.5a4 4 0 0 1 4 4v36.5a4 4 0 0 1 -4 4h-5.5a4 4 0 0 1 -4 -4v-36.5a4 4 0 0 1 4 -4zM720.8 1615.5h5.5a4 4 0 0 1 4 4v19.5a4 4 0 0 1 -4 4h-5.5a4 4 0 0 1 -4 -4v-19.5a4 4 0 0 1 4 -4zM861.2 1598.5h5.5a4 4 0 0 1 4 4v36.5a4 4 0 0 1 -4 4h-5.5a4 4 0 0 1 -4 -4v-36.5a4 4 0 0 1 4 -4zM1001.8 1615.5h5.5a4 4 0 0 1 4 4v19.5a4 4 0 0 1 -4 4h-5.5a4 4 0 0 1 -4 -4v-19.5a4 4 0 0 1 4 -4zM1142.2 1598.5h5.5a4 4 0 0 1 4 4v36.5a4 4 0 0 1 -4 4h-5.5a4 4 0 0 1 -4 -4v-36.5a4 4 0 0 1 4 -4zM1282.8 1615.5h5.5a4 4 0 0 1 4 4v19.5a4 4 0 0 1 -4 4h-5.5a4 4 0 0 1 -4 -4v-19.5a4 4 0 0 1 4 -4zM1423.2 1598.5h5.5a4 4 0 0 1 4 4v36.5a4 4 0 0 1 -4 4h-5.5a4 4 0 0 1 -4 -4v-36.5a4 4 0 0 1 4 -4zM1563.8 1615.5h5.5a4 4 0 0 1 4 4v19.5a4 4 0 0 1 -4 4h-5.5a4 4 0 0 1 -4 -4v-19.5a4 4 0 0 1 4 -4zM1704.2 1598.5h5.5a4 4 0 0 1 4 4v36.5a4 4 0 0 1 -4 4h-5.5a4 4 0 0 1 -4 -4v-36.5a4 4 0 0 1 4 -4zM1844.8 1615.5h5.5a4 4 0 0 1 4 4v19.5a4 4 0 0 1 -4 4h-5.5a4 4 0 0 1 -4 -4v-19.5a4 4 0 0 1 4 -4zM1985.2 1598.5h5.5a4 4 0 0 1 4 4v36.5a4 4 0 0 1 -4 4h-5.5a4 4 0 0 1 -4 -4v-36.5a4 4 0 0 1 4 -4zM2125.8 1615.5h5.5a4 4 0 0 1 4 4v19.5a4 4 0 0 1 -4 4h-5.5a4 4 0 0 1 -4 -4v-19.5a4 4 0 0 1 4 -4zM2249.5 166.9h19.5a4 4 0 0 1 4 4v5.5a4 4 0 0 1 -4 4h-19.5a4 4 0 0 1 -4 -4v-5.5a4 4 0 0 1 4 -4zM2232.5 253.1h36.5a4 4 0 0 1 4 4v5.5a4 4 0 0 1 -4 4h-36.5a4 4 0 0 1 -4 -4v-5.5a4 4 0 0 1 4 -4zM2249.5 339.3h19.5a4 4 0 0 1 4 4v5.5a4 4 0 0 1 -4 4h-19.5a4 4 0 0 1 -4 -4v-5.5a4 4 0 0 1 4 -4zM2232.5 425.5h36.5a4 4 0 0 1 4 4v5.5a4 4 0 0 1 -4 4h-36.5a4 4 0 0 1 -4 -4v-5.5a4 4 0 0 1 4 -4zM2249.5 511.7h19.5a4 4 0 0 1 4 4v5.5a4 4 0 0 1 -4 4h-19.5a4 4 0 0 1 -4 -4v-5.5a4 4 0 0 1 4 -4zM2232.5 597.9h36.5a4 4 0 0 1 4 4v5.5a4 4 0 0 1 -4 4h-36.5a4 4 0 0 1 -4 -4v-5.5a4 4 0 0 1 4 -4zM2249.5 684.1h19.5a4 4 0 0 1 4 4v5.5a4 4 0 0 1 -4 4h-19.5a4 4 0 0 1 -4 -4v-5.5a4 4 0 0 1 4 -4zM2232.5 770.3h36.5a4 4 0 0 1 4 4v5.5a4 4 0 0 1 -4 4h-36.5a4 4 0 0 1 -4 -4v-5.5a4 4 0 0 1 4 -4zM2249.5 856.5h19.5a4 4 0 0 1 4 4v5.5a4 4 0 0 1 -4 4h-19.5a4 4 0 0 1 -4 -4v-5.5a4 4 0 0 1 4 -4zM2232.5 942.7h36.5a4 4 0 0 1 4 4v5.5a4 4 0 0 1 -4 4h-36.5a4 4 0 0 1 -4 -4v-5.5a4 4 0 0 1 4 -4zM2249.5 1028.9h19.5a4 4 0 0 1 4 4v5.5a4 4 0 0 1 -4 4h-19.5a4 4 0 0 1 -4 -4v-5.5a4 4 0 0 1 4 -4zM2232.5 1115.1h36.5a4 4 0 0 1 4 4v5.5a4 4 0 0 1 -4 4h-36.5a4 4 0 0 1 -4 -4v-5.5a4 4 0 0 1 4 -4zM2249.5 1201.3h19.5a4 4 0 0 1 4 4v5.5a4 4 0 0 1 -4 4h-19.5a4 4 0 0 1 -4 -4v-5.5a4 4 0 0 1 4 -4zM2232.5 1287.5h36.5a4 4 0 0 1 4 4v5.5a4 4 0 0 1 -4 4h-36.5a4 4 0 0 1 -4 -4v-5.5a4 4 0 0 1 4 -4zM2249.5 1373.7h19.5a4 4 0 0 1 4 4v5.5a4 4 0 0 1 -4 4h-19.5a4 4 0 0 1 -4 -4v-5.5a4 4 0 0 1 4 -4zM2232.5 1459.9h36.5a4 4 0 0 1 4 4v5.5a4 4 0 0 1 -4 4h-36.5a4 4 0 0 1 -4 -4v-5.5a4 4 0 0 1 4 -4zM2249.5 1546.1h19.5a4 4 0 0 1 4 4v5.5a4 4 0 0 1 -4 4h-19.5a4 4 0 0 1 -4 -4v-5.5a4 4 0 0 1 4 -4z" fill="#000" stroke="none"/><path d="M302.0 87.5H2269.0V1639.0H302.0" stroke-width="13.0" stroke-linejoin="round" stroke-linecap="round"/><path d="M302.0 87.5V97.5" stroke-width="13.0" stroke-dasharray="6.5 2000"/><path d="M302.0 1639.0V1629.0" stroke-width="13.0" stroke-dasharray="6.5 2000"/></g>
<g id="ylabels">
<text y="109.0" font-size="81"><tspan x="223.95">1</tspan></text><path d="M226.38 101.52H243.98v9.28H226.38zM251.71 101.52H268.50v9.28H251.71z" fill="#fefefe"/>
<text y="281.4" font-size="81"><tspan x="220.95">0</tspan></text>
<text y="453.8" font-size="81"><tspan x="193.98">-</tspan><tspan x="223.95">1</tspan></text><path d="M226.38 446.30H243.98v9.28H226.38zM251.71 446.30H268.50v9.28H251.71z" fill="#fefefe"/>
<text y="626.2" font-size="81"><tspan x="193.98">-2</tspan></text>
<text y="798.6" font-size="81"><tspan x="193.98">-3</tspan></text>
<text y="970.9" font-size="81"><tspan x="193.98">-4</tspan></text>
<text y="1143.3" font-size="81"><tspan x="193.98">-5</tspan></text>
<text y="1315.7" font-size="81"><tspan x="193.98">-6</tspan></text>
<text y="1488.1" font-size="81"><tspan x="193.98">-7</tspan></text>
<text y="1660.5" font-size="81"><tspan x="193.98">-8</tspan></text>
</g>
<g id="xlabels">
<text y="1736.0" font-size="81"><tspan x="256.95">75</tspan></text>
<text y="1736.0" font-size="81"><tspan x="518.43">1</tspan><tspan x="560.48">00</tspan></text><path d="M520.86 1728.52H538.46v9.28H520.86zM546.19 1728.52H562.98v9.28H546.19z" fill="#fefefe"/>
<text y="1736.0" font-size="81"><tspan x="799.43">1</tspan><tspan x="841.48">25</tspan></text><path d="M801.86 1728.52H819.46v9.28H801.86zM827.19 1728.52H843.98v9.28H827.19z" fill="#fefefe"/>
<text y="1736.0" font-size="81"><tspan x="1080.43">1</tspan><tspan x="1122.48">50</tspan></text><path d="M1082.86 1728.52H1100.46v9.28H1082.86zM1108.19 1728.52H1124.98v9.28H1108.19z" fill="#fefefe"/>
<text y="1736.0" font-size="81"><tspan x="1361.43">1</tspan><tspan x="1403.48">75</tspan></text><path d="M1363.86 1728.52H1381.46v9.28H1363.86zM1389.19 1728.52H1405.98v9.28H1389.19z" fill="#fefefe"/>
<text y="1736.0" font-size="81"><tspan x="1639.43">200</tspan></text>
<text y="1736.0" font-size="81"><tspan x="1920.43">225</tspan></text>
<text y="1736.0" font-size="81"><tspan x="2201.43">250</tspan></text>
</g>
<text y="1898" font-size="106.5"><tspan x="883" style="letter-spacing:-1.38px">Temperature</tspan> <tspan x="1505.7">(</tspan><tspan x="1540.4" y="1900.4" font-size="94">°</tspan><tspan x="1577.6" y="1898">C)</tspan></text>
<text transform="translate(131 928.5) rotate(-90)" font-size="104" text-anchor="middle">Hydrogen released (wt.%)</text>
</g>
</svg></body></html>
